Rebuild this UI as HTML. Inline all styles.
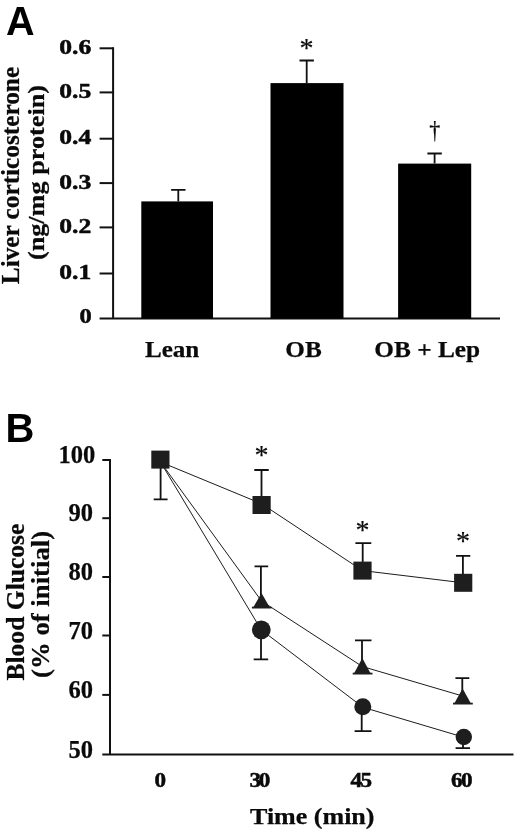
<!DOCTYPE html>
<html lang="en">
<head>
<meta charset="utf-8">
<title>Figure</title>
<style>
html,body{margin:0;padding:0;background:#fff;}
body{width:520px;height:835px;overflow:hidden;}
svg{display:block;filter:blur(0.35px);}
.t{font-family:"Liberation Serif", "DejaVu Serif", serif;font-weight:bold;fill:#0a0a0a;stroke:#0a0a0a;stroke-width:0.25;}
.p{font-family:"Liberation Sans", "DejaVu Sans", sans-serif;font-weight:bold;fill:#000;}
.ln{stroke:#111;stroke-width:2;fill:none;}
.eb{stroke:#111;stroke-width:1.8;fill:none;}
.cn{stroke:#1c1c1c;stroke-width:1;fill:none;}
.mk{fill:#1e1e1e;}
.tk{stroke:#0a0a0a;stroke-width:0.5;}
.xk{stroke:#0a0a0a;stroke-width:0.5;}
</style>
</head>
<body>

<svg width="520" height="835" viewBox="0 0 520 835">
<rect width="520" height="835" fill="#fff"/>
<text class="p" x="5.9" y="34.5" font-size="40.5" textLength="28.6" lengthAdjust="spacingAndGlyphs">A</text>
<path class="ln" d="M113.1 47.3V318.5M99.6 318.5H500"/>
<path class="ln" d="M99.6 48.3H113.1"/>
<text class="t tk" x="59.3" y="53.9" font-size="20" textLength="32" lengthAdjust="spacingAndGlyphs">0.6</text>
<path class="ln" d="M99.6 92.4H113.1"/>
<text class="t tk" x="59.3" y="98.0" font-size="20" textLength="32" lengthAdjust="spacingAndGlyphs">0.5</text>
<path class="ln" d="M99.6 138.7H113.1"/>
<text class="t tk" x="59.3" y="144.3" font-size="20" textLength="32" lengthAdjust="spacingAndGlyphs">0.4</text>
<path class="ln" d="M99.6 183.1H113.1"/>
<text class="t tk" x="59.3" y="188.7" font-size="20" textLength="32" lengthAdjust="spacingAndGlyphs">0.3</text>
<path class="ln" d="M99.6 227.4H113.1"/>
<text class="t tk" x="59.3" y="233.0" font-size="20" textLength="32" lengthAdjust="spacingAndGlyphs">0.2</text>
<path class="ln" d="M99.6 273.5H113.1"/>
<text class="t tk" x="59.3" y="279.1" font-size="20" textLength="32" lengthAdjust="spacingAndGlyphs">0.1</text>
<text class="t tk" x="79.6" y="323.1" font-size="20" textLength="12.2" lengthAdjust="spacingAndGlyphs">0</text>
<rect x="141.3" y="201.4" width="71.7" height="117.1" fill="#000"/>
<path class="eb" d="M178.3 201.4V189.9M171.1 189.9H185.5"/>
<rect x="270.5" y="83.1" width="73.0" height="235.4" fill="#000"/>
<path class="eb" d="M306.7 83.1V60.5M299.5 60.5H313.9"/>
<rect x="398.1" y="163.6" width="73.1" height="154.9" fill="#000"/>
<path class="eb" d="M434.6 163.6V153.5M427.4 153.5H441.8"/>
<text class="t" x="145" y="356.8" font-size="23" textLength="54.3" lengthAdjust="spacingAndGlyphs">Lean</text>
<text class="t" x="285.3" y="356.8" font-size="23" textLength="36.4" lengthAdjust="spacingAndGlyphs">OB</text>
<text class="t" x="374.3" y="356.8" font-size="23" textLength="105.8" lengthAdjust="spacingAndGlyphs">OB + Lep</text>
<text class="t" transform="translate(306.4 56.6) scale(1.02 1)" font-size="27.5" text-anchor="middle" style="font-weight:normal;stroke-width:0.2">*</text>
<text class="t" transform="translate(434.8 137.5) scale(0.85 1)" x="0" y="0" font-size="26" text-anchor="middle" style="font-weight:normal">†</text>
<text class="t" transform="translate(18.8 284.2) rotate(-90)" font-size="25" textLength="217.3" lengthAdjust="spacingAndGlyphs">Liver corticosterone</text>
<text class="t" transform="translate(43.8 260.1) rotate(-90)" font-size="23.5" textLength="175.1" lengthAdjust="spacingAndGlyphs">(ng/mg protein)</text>
<text class="p" x="5.6" y="442.2" font-size="40">B</text>
<path class="ln" d="M110 459V754.5M102.3 754.5H513.5"/>
<path class="ln" d="M102.3 460.0H110"/>
<text class="t" x="95.3" y="463.2" font-size="24.5" text-anchor="end" stroke="#0a0a0a" stroke-width="0.35">100</text>
<path class="ln" d="M102.3 518.2H110"/>
<text class="t" x="92.9" y="521.4" font-size="24.5" text-anchor="end" stroke="#0a0a0a" stroke-width="0.35">90</text>
<path class="ln" d="M102.3 577.0H110"/>
<text class="t" x="92.9" y="580.2" font-size="24.5" text-anchor="end" stroke="#0a0a0a" stroke-width="0.35">80</text>
<path class="ln" d="M102.3 635.5H110"/>
<text class="t" x="92.9" y="638.7" font-size="24.5" text-anchor="end" stroke="#0a0a0a" stroke-width="0.35">70</text>
<path class="ln" d="M102.3 694.9H110"/>
<text class="t" x="92.9" y="698.1" font-size="24.5" text-anchor="end" stroke="#0a0a0a" stroke-width="0.35">60</text>
<text class="t" x="92.9" y="757.7" font-size="24.5" text-anchor="end" stroke="#0a0a0a" stroke-width="0.35">50</text>
<path class="cn" d="M160.5 462.0L261.5 503.7L362.5 570.6L463.2 582.8"/>
<path class="cn" d="M160.5 462.0L261.5 601.0L362.3 666.5L462.6 696.0"/>
<path class="cn" d="M160.5 462.0L261.2 629.8L363.0 707.3L464.0 737.3"/>
<path class="eb" d="M160.6 460.0V499.3M153.7 499.3H167.6"/>
<path class="eb" d="M261.5 505.0V470.0M254.3 470.0H268.7"/>
<path class="eb" d="M362.7 570.5V543.2M355.4 543.2H371.3"/>
<path class="eb" d="M462.9 583.0V555.8M456.0 555.8H470.3"/>
<path class="eb" d="M260.9 600.0V566.3M254.5 566.3H268.2"/>
<path class="eb" d="M362.0 665.0V640.4M355.0 640.4H371.5"/>
<path class="eb" d="M462.3 694.0V678.2M455.4 678.2H469.3"/>
<path class="eb" d="M261.0 629.5V659.4M253.7 659.4H268.2"/>
<path class="eb" d="M361.7 706.5V731.2M354.6 731.2H371.5"/>
<path class="eb" d="M463.0 736.5V748.1M455.6 748.1H470.0"/>
<rect class="mk" x="151.3" y="450.6" width="18.2" height="18"/>
<rect class="mk" x="252.5" y="496.0" width="18.2" height="18"/>
<rect class="mk" x="353.4" y="561.6" width="18.2" height="18"/>
<rect class="mk" x="454.1" y="573.8" width="18.2" height="18"/>
<path class="mk" d="M261.5 593.0L270.1 608.0H252.9Z"/>
<path d="M251.9 607.6H271.7" stroke="#1e1e1e" stroke-width="1.8" fill="none"/>
<path class="mk" d="M362.3 658.0L370.9 674.0H353.7Z"/>
<path d="M352.7 673.6H372.5" stroke="#1e1e1e" stroke-width="1.8" fill="none"/>
<path class="mk" d="M462.6 688.5L471.2 704.0H454.0Z"/>
<path d="M453.0 703.6H472.8" stroke="#1e1e1e" stroke-width="1.8" fill="none"/>
<circle class="mk" cx="261.3" cy="629.8" r="9.4"/>
<circle class="mk" cx="362.8" cy="706.8" r="8.5"/>
<circle class="mk" cx="463.8" cy="737.0" r="8.2"/>
<text class="t" transform="translate(261.4 463.7) scale(1.02 1)" font-size="27.5" text-anchor="middle" style="font-weight:normal;stroke-width:0.2">*</text>
<text class="t" transform="translate(362.4 539.2) scale(1.02 1)" font-size="27.5" text-anchor="middle" style="font-weight:normal;stroke-width:0.2">*</text>
<text class="t" transform="translate(462.9 549.7) scale(1.02 1)" font-size="27.5" text-anchor="middle" style="font-weight:normal;stroke-width:0.2">*</text>
<text class="t xk" transform="translate(154.4 787.1) scale(1.115 1)" font-size="20.8">0</text>
<text class="t xk" transform="translate(249.6 787.1) scale(1.115 1)" font-size="20.8" letter-spacing="-2.15">30</text>
<text class="t xk" transform="translate(350.6 787.1) scale(1.115 1)" font-size="20.8" letter-spacing="-1.61">45</text>
<text class="t xk" transform="translate(451.1 787.1) scale(1.115 1)" font-size="20.8" letter-spacing="-1.52">60</text>
<text class="t" x="250" y="823.7" font-size="23" textLength="124.5" lengthAdjust="spacingAndGlyphs">Time (min)</text>
<text class="t" transform="translate(24.2 680.6) rotate(-90)" font-size="25.5" textLength="157" lengthAdjust="spacingAndGlyphs">Blood Glucose</text>
<text class="t" transform="translate(49.2 677.9) rotate(-90)" font-size="25" textLength="147" lengthAdjust="spacingAndGlyphs">(% of initial)</text>
</svg>
</body>
</html>
